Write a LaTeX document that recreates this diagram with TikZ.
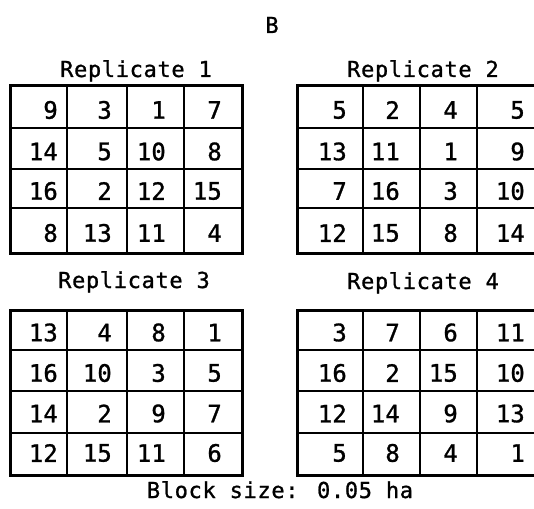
\documentclass[tikz,border=0pt]{standalone}
\usepackage{fontspec}
\newfontfamily\labelfont[LetterSpace=3,FakeBold=1]{DejaVu Sans Mono}
\newfontfamily\numfont[FakeBold=1.2]{DejaVu Sans Mono}

\tikzset{
  frameline/.style={line width=3pt, line cap=rect},
  gridline/.style={line width=2.2pt},
  plotnum/.style={anchor=east, inner sep=0pt, font=\numfont\fontsize{24}{24}\selectfont},
  replabel/.style={anchor=base, inner sep=0pt, font=\labelfont\fontsize{22}{22}\selectfont}
}

\newcommand{\plotnumbers}[4]{%
  \foreach \row [count=\r] in {#4} {
    \foreach \v [count=\c] in \row {
      \pgfmathsetmacro{\xx}{{#2}[\c-1]}
      \pgfmathsetmacro{\yy}{{#3}[\r-1]}
      \node[plotnum] (#1-\r-\c) at (\xx,\yy) {\v};
    }
  }
}

\begin{document}
\begin{tikzpicture}[x=1pt,y=-1pt]
  \clip (0,0) rectangle (534,508);

  \node[replabel] (panel) at (272,33) {B};

  \node[replabel] (rep1) at (136,77) {Replicate 1};
  \node[replabel] (rep2) at (423,77) {Replicate 2};
  \node[replabel] (rep3) at (134,288) {Replicate 3};
  \node[replabel] (rep4) at (423,289) {Replicate 4};

  % left grids
  \foreach \top/\bot/\ys in {86/253/{128,169,208}, 310/475/{350,391,433}} {
    \draw[frameline] (10,\top) rectangle (242,\bot);
    \foreach \x in {67,127,184} \draw[gridline] (\x,\top) -- (\x,\bot);
    \foreach \y in \ys \draw[gridline] (10,\y) -- (242,\y);
  }

  % right grids, cut at the edge
  \foreach \top/\bot/\ys in {86/253/{128,169,208}, 310/475/{350,391,433}} {
    \draw[frameline] (545,\top) -- (297,\top) -- (297,\bot) -- (545,\bot);
    \foreach \x in {363,420,477} \draw[gridline] (\x,\top) -- (\x,\bot);
    \foreach \y in \ys \draw[gridline] (297,\y) -- (545,\y);
  }

  \plotnumbers{r1}{58,112,166,222}{110,151.5,191,233}
    {{9,3,1,7},{14,5,10,8},{16,2,12,15},{8,13,11,4}}
  \plotnumbers{r2}{347,400,458,525}{110,151.5,191,233}
    {{5,2,4,5},{13,11,1,9},{7,16,3,10},{12,15,8,14}}
  \plotnumbers{r3}{58,112,166,222}{332.5,373,413.5,453}
    {{13,4,8,1},{16,10,3,5},{14,2,9,7},{12,15,11,6}}
  \plotnumbers{r4}{347,400,458,525}{332.5,373,413.5,453}
    {{3,7,6,11},{16,2,15,10},{12,14,9,13},{5,8,4,1}}

  \node[replabel] (blocksize) at (280,498) {Block size: 0.05 ha};
\end{tikzpicture}
\end{document}
